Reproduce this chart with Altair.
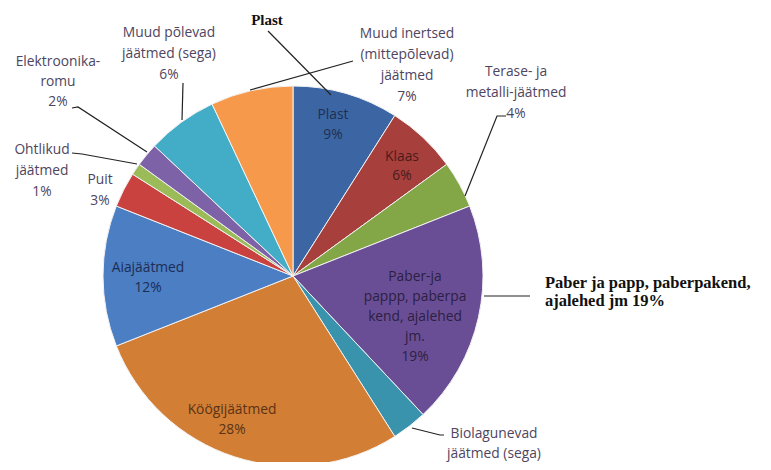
import altair as alt
import pandas as pd

# ---- data ----
categories = ["Plast", "Klaas", "Terase- ja metalli-jäätmed", "Paber ja papp",
              "Biolagunevad jäätmed (sega)", "Köögijäätmed", "Aiajäätmed", "Puit",
              "Ohtlikud jäätmed", "Elektroonikaromu", "Muud põlevad jäätmed (sega)",
              "Muud inertsed (mittepõlevad) jäätmed"]
values = [9, 6, 4, 19, 3, 28, 12, 3, 1, 2, 6, 7]
colors = ["#3C66A3", "#A7403D", "#83A646", "#6A4E95", "#3993AD", "#D27E35",
          "#4B7EC3", "#C9423F", "#9BBB59", "#7E62A8", "#43ADC8", "#F7994A"]

# label texts (line by line)
inside_lines = [
    ["Plast", "9%"], ["Klaas", "6%"],
    ["Paber-ja", "pappp, paberpa", "kend, ajalehed", "jm.", "19%"],
    ["Köögijäätmed", "28%"], ["Aiajäätmed", "12%"],
]
outside_lines = [
    ["Muud inertsed", "(mittepõlevad)", "jäätmed", "7%"],
    ["Terase- ja", "metalli-jäätmed", "4%"],
    ["Biolagunevad", "jäätmed (sega)"],
    ["Puit", "3%"],
    ["Ohtlikud", "jäätmed", "1%"],
    ["Elektroonika-", "romu", "2%"],
    ["Muud põlevad", "jäätmed (sega)", "6%"],
]
annot_lines = [["Plast"], ["Paber ja papp, paberpakend,", "ajalehed jm 19%"]]

# ---- layout (page px minus 8px margin) ----
OFF = 8
cx, cy, R = 293 - OFF, 276 - OFF, 190
inside_anchor = [(333, 115, 20), (402, 157, 19), (415, 277, 20), (232, 410, 20), (148, 268, 20)]
inside_col = ["#1E2F52", "#4A1B1A", "#2C2042", "#5B3314", "#1C2D55"]
outside_anchor = [(407, 34, 21), (516, 72, 21), (494, 434, 20), (100, 180, 21),
                  (42, 150, 21), (58, 62, 20), (169, 33, 21)]
annot_anchor = [(267, 20, 19), (545, 283, 18)]

rows = []
for lines, (x, y, dy), col in zip(inside_lines, inside_anchor, inside_col):
    for i, t in enumerate(lines):
        rows.append({"x": x - OFF, "y": y + i * dy - OFF, "text": t, "col": col})
lab_in = pd.DataFrame(rows)

rows = []
for lines, (x, y, dy) in zip(outside_lines, outside_anchor):
    for i, t in enumerate(lines):
        rows.append({"x": x - OFF, "y": y + i * dy - OFF, "text": t, "col": "#4E4560"})
lab_out = pd.DataFrame(rows)

rows = []
for k, (lines, (x, y, dy)) in enumerate(zip(annot_lines, annot_anchor)):
    for i, t in enumerate(lines):
        rows.append({"x": x - OFF, "y": y + i * dy - OFF, "text": t,
                     "al": "center" if k == 0 else "left"})
lab_ann = pd.DataFrame(rows)

leaders = [
    [(268, 31), (331, 95)],
    [(353, 61), (250, 90)],
    [(506, 116), (497, 116), (465, 196)],
    [(412, 428), (440, 435), (444, 435)],
    [(72, 153), (82, 154), (137, 164)],
    [(72, 108), (78, 107), (147, 152)],
    [(183, 83), (182, 120)],
    [(484, 296), (530, 296)],
]
rows = []
for g, pts in enumerate(leaders):
    for j, (x, y) in enumerate(pts):
        rows.append({"g": g, "o": j, "x": x - OFF, "y": y - OFF})
lead_df = pd.DataFrame(rows)

df = pd.DataFrame({"cat": categories, "value": values, "idx": list(range(len(values)))})

pie = alt.Chart(df).mark_arc(outerRadius=R, stroke="#F2F2F2", strokeWidth=1).encode(
    theta=alt.Theta("value:Q", stack=True),
    color=alt.Color("cat:N", scale=alt.Scale(domain=categories, range=colors), legend=None),
    order=alt.Order("idx:Q"),
    x=alt.value(cx), y=alt.value(cy),
)

xs = alt.X("x:Q", scale=None, axis=None)
ys = alt.Y("y:Q", scale=None, axis=None)

lines_layer = alt.Chart(lead_df).mark_line(color="#222222", strokeWidth=1.2).encode(
    x=xs, y=ys, detail="g:N", order="o:Q")

FS = 13.8
txt_in = alt.Chart(lab_in).mark_text(font="Open Sans", fontSize=FS, baseline="middle",
                                     align="center").encode(
    x=xs, y=ys, text="text:N", color=alt.Color("col:N", scale=None))
txt_out = alt.Chart(lab_out).mark_text(font="Open Sans", fontSize=FS, baseline="middle",
                                       align="center").encode(
    x=xs, y=ys, text="text:N", color=alt.Color("col:N", scale=None))
ann_c = alt.Chart(lab_ann[lab_ann["al"] == "center"]).mark_text(
    font="Liberation Serif", fontSize=15, fontWeight="bold", baseline="middle",
    align="center", color="#111111").encode(x=xs, y=ys, text="text:N")
ann_l = alt.Chart(lab_ann[lab_ann["al"] == "left"]).mark_text(
    font="Liberation Serif", fontSize=16.5, fontWeight="bold", baseline="middle",
    align="left", color="#111111").encode(x=xs, y=ys, text="text:N")

chart = alt.layer(pie, lines_layer, txt_in, txt_out, ann_c, ann_l).properties(
    width=771 - 2 * OFF, height=470 - 2 * OFF,
    autosize=alt.AutoSizeParams(type="none"), padding=0,
).configure_view(stroke=None)

chart.save("out.html", embed_options={"renderer": "svg", "actions": False})
